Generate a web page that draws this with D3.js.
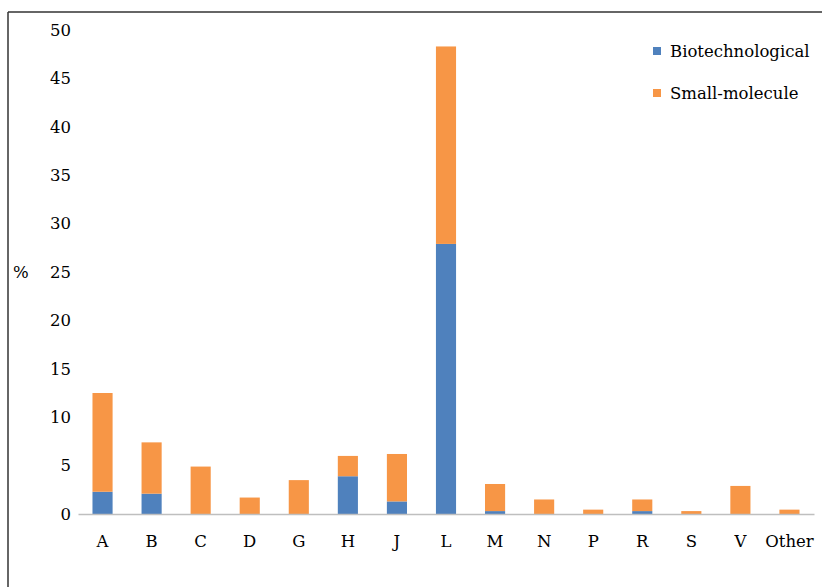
<!DOCTYPE html>
<html>
<head>
<meta charset="utf-8">
<script src="https://cdn.jsdelivr.net/npm/d3@7"></script>
<style>
  body { margin: 0; background: #fff; }
  text { font-family: "DejaVu Serif", serif; fill: #000; }
</style>
</head>
<body>
<div id="chart"></div>
<script>
const categories = ["A", "B", "C", "D", "G", "H", "J", "L", "M", "N", "P", "R", "S", "V", "Other"];
const biotech = [2.3, 2.1, 0, 0, 0, 3.9, 1.3, 27.9, 0.3, 0, 0, 0.3, 0, 0, 0];
const smallMolecule = [10.2, 5.3, 4.9, 1.7, 3.5, 2.1, 4.9, 20.4, 2.8, 1.5, 0.45, 1.2, 0.3, 2.9, 0.45];
const yTicks = [0, 5, 10, 15, 20, 25, 30, 35, 40, 45, 50];
const seriesNames = ["Biotechnological", "Small-molecule"];
const colors = ["#4f81bd", "#f79646"];

const W = 822, H = 587;
const margin = { top: 30, right: 8, bottom: 73, left: 78 };
const fontSize = "16.5px";

const svg = d3.select("#chart").append("svg")
  .attr("width", W)
  .attr("height", H);

// frame (top and left edges only visible)
svg.append("line").attr("x1", 8).attr("x2", W).attr("y1", 12).attr("y2", 12)
  .attr("stroke", "#333").attr("stroke-width", 1.5);
svg.append("line").attr("x1", 8).attr("x2", 8).attr("y1", 12).attr("y2", H)
  .attr("stroke", "#333").attr("stroke-width", 1.5);

var x = d3.scaleBand()
  .domain(categories)
  .range([margin.left, W - margin.right])
  .paddingInner(0.59)
  .paddingOuter(0.295);

var y = d3.scaleLinear()
  .domain([0, 50])
  .range([H - margin.bottom, margin.top]);

var rows = categories.map((c, i) => ({ cat: c, Biotechnological: biotech[i], "Small-molecule": smallMolecule[i] }));
var stack = d3.stack().keys(seriesNames)(rows);

svg.append("g").selectAll("g")
  .data(stack)
  .enter().append("g")
  .attr("fill", (d, i) => colors[i])
  .selectAll("rect")
  .data(d => d)
  .enter().append("rect")
  .attr("x", d => x(d.data.cat))
  .attr("width", x.bandwidth())
  .attr("y", d => y(d[1]))
  .attr("height", d => y(d[0]) - y(d[1]));

// y axis: labels only
var yAxis = d3.axisLeft(y).tickValues(yTicks).tickSize(0).tickPadding(0);
var gy = svg.append("g")
  .attr("transform", "translate(71,0)")
  .call(yAxis);
gy.select(".domain").remove();
gy.selectAll("text").attr("font-size", fontSize).attr("font-family", "DejaVu Serif").attr("fill", "#000");

// x axis
var xAxis = d3.axisBottom(x).tickSize(0).tickPadding(21);
var gx = svg.append("g")
  .attr("transform", "translate(0," + y(0) + ")")
  .call(xAxis);
gx.select(".domain").attr("stroke", "#bfbfbf").attr("stroke-width", 1.5);
gx.selectAll("text").attr("font-size", fontSize).attr("font-family", "DejaVu Serif").attr("fill", "#000");

svg.append("text")
  .attr("x", 13).attr("y", y(25)).attr("dy", ".35em")
  .attr("font-size", fontSize)
  .text("%");

// legend
var legend = svg.append("g").selectAll("g")
  .data(seriesNames)
  .enter().append("g")
  .attr("transform", (d, i) => "translate(653," + (51 + i * 42) + ")");
legend.append("rect")
  .attr("x", 0).attr("y", -4).attr("width", 8).attr("height", 8)
  .attr("fill", (d, i) => colors[i]);
legend.append("text")
  .attr("x", 17).attr("dy", ".35em")
  .attr("font-size", fontSize)
  .text(d => d);
</script>
</body>
</html>
